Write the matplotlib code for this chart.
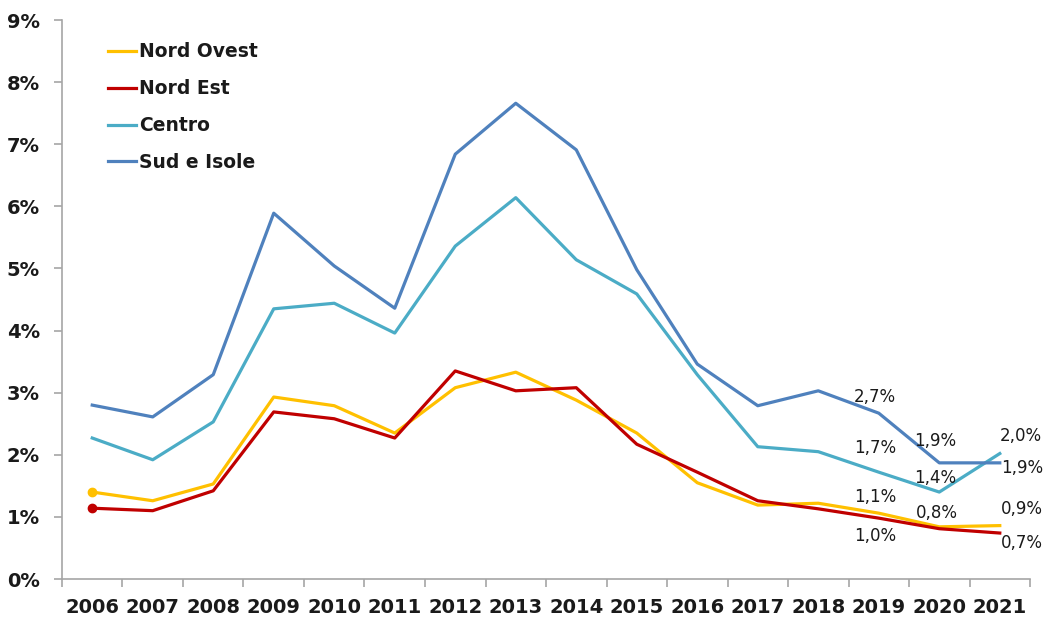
import numpy as np
import matplotlib.pyplot as plt
from matplotlib.ticker import FuncFormatter

years = [str(y) for y in range(2006, 2022)]

nord_ovest = [1.40, 1.26, 1.53, 2.93, 2.79, 2.35, 3.08, 3.33, 2.88, 2.35, 1.55, 1.19, 1.22, 1.06, 0.84, 0.86]
nord_est = [1.14, 1.10, 1.42, 2.69, 2.58, 2.27, 3.35, 3.03, 3.08, 2.17, 1.72, 1.26, 1.13, 0.98, 0.81, 0.74]
centro = [2.27, 1.92, 2.53, 4.35, 4.44, 3.96, 5.36, 6.14, 5.14, 4.59, 3.29, 2.13, 2.05, 1.72, 1.40, 2.02]
sud_isole = [2.80, 2.61, 3.29, 5.89, 5.04, 4.36, 6.84, 7.66, 6.91, 4.98, 3.46, 2.79, 3.03, 2.67, 1.87, 1.87]

plt.rcParams['font.family'] = ['DejaVu Sans']

fig = plt.figure(figsize=(10.47, 6.18), dpi=100)
ax = fig.add_axes([0.0592, 0.0631, 0.9246, 0.9045])

x = np.arange(len(years))
series = [
    ("Nord Ovest", nord_ovest, "#FFC000"),
    ("Nord Est", nord_est, "#C00000"),
    ("Centro", centro, "#4BACC6"),
    ("Sud e Isole", sud_isole, "#4F81BD"),
]
for name, vals, col in series:
    ax.plot(x, vals, color=col, lw=2.3, label=name)

# dot on the first point of the two northern series
ax.plot(x[0], nord_ovest[0], 'o', color="#FFC000", ms=6)
ax.plot(x[0], nord_est[0], 'o', color="#C00000", ms=6)

def fmt(v):
    return f"{v:.1f}".replace('.', ',') + "%"

# value labels on the last three years: (series, index, dx, dy) in pixels
labels = [
    (sud_isole, 13, -4, 16), (centro, 13, -4, 24), (nord_ovest, 13, -4, 16), (nord_est, 13, -4, -18),
    (sud_isole, 14, -4, 22), (centro, 14, -4, 14), (nord_ovest, 14, -2, 14),
    (centro, 15, 21, 18), (sud_isole, 15, 22, -5), (nord_ovest, 15, 22, 17), (nord_est, 15, 22, -10),
]
for vals, i, dx, dy in labels:
    ax.annotate(fmt(vals[i]), (x[i], vals[i]), xytext=(dx, dy), textcoords='offset pixels',
                ha='center', va='center', fontsize=12, color='#1a1a1a')

ax.set_xlim(-0.5, len(years) - 0.5)
ax.set_ylim(0, 9)
ax.set_yticks(range(0, 10))
ax.yaxis.set_major_formatter(FuncFormatter(lambda v, p: f"{int(v)}%"))
ax.set_xticks(x)
ax.set_xticklabels(years)
ax.set_xticks(np.arange(-0.5, len(years)), minor=True)
ax.tick_params(axis='x', which='major', length=0, pad=14)
ax.tick_params(axis='x', which='minor', length=6, color='#a6a6a6', width=1.2)
ax.tick_params(axis='y', length=6, color='#a6a6a6', width=1.2, pad=10)
for lab in ax.get_xticklabels() + ax.get_yticklabels():
    lab.set_fontsize(14)
    lab.set_fontweight('bold')
    lab.set_color('#1a1a1a')

for s in ['top', 'right']:
    ax.spines[s].set_visible(False)
for s in ['left', 'bottom']:
    ax.spines[s].set_color('#a6a6a6')
    ax.spines[s].set_linewidth(1.2)

leg = ax.legend(loc='upper left', bbox_to_anchor=(0.03, 0.99), frameon=False,
                handlelength=1.5, handletextpad=0.15, labelspacing=0.95,
                prop={'size': 13.5, 'weight': 'bold'})
for t in leg.get_texts():
    t.set_color('#1a1a1a')

fig.savefig('out.png', dpi=100)
